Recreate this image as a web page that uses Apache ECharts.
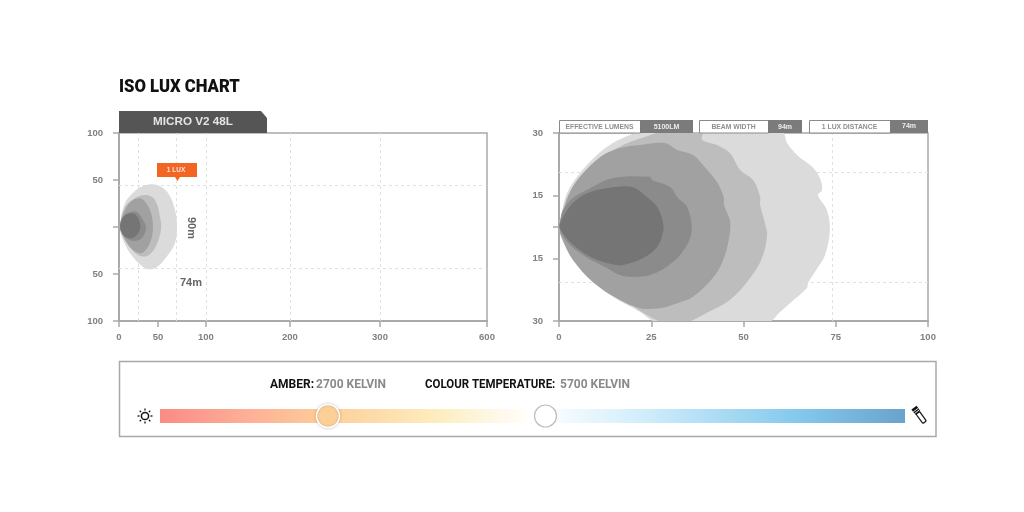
<!DOCTYPE html>
<html><head><meta charset="utf-8">
<style>html,body{margin:0;padding:0;background:#fff}#c{width:1024px;height:512px}</style>
<script src="https://cdn.jsdelivr.net/npm/echarts@6/dist/echarts.min.js"></script>
</head><body><div id="c"></div>
<script>
// Left chart ticks: axis position and printed label
const leftXTicks = [0, 50, 111.5, 219, 334.6, 471.8];
const leftXLabels = ['0', '50', '100', '200', '300', '600'];
const leftYTicks = [-100, -50, 0, 50, 100];
const leftYLabels = ['100', '50', '', '50', '100'];
const leftDashX = [25, 74, 111.5, 219, 334.6];
const leftDashY = [-43.5, 44.3];
// Right chart ticks
const rightXTicks = [0, 25, 50, 75, 100];
const rightXLabels = ['0', '25', '50', '75', '100'];
const rightYTicks = [-30, -10, 0, 10, 30];
const rightYLabels = ['30', '15', '', '15', '30'];
const rightDashX = [74];
const rightDashY = [-17.5, 17.5];

const shades = ['#dbdbdb', '#bdbdbd', '#a1a1a1', '#8b8b8b', '#757575'];

const left1 = [[1.3,0],[7.7,25.5],[17.9,36.2],[30.8,43.6],[48.7,44.7],[62.8,36.2],[71.8,18.1],[74.4,0],[71.8,-17],[62.8,-29.8],[48.7,-42.6],[35.9,-44.7],[17.9,-31.9],[5.1,-13.8]];
const left2 = [[1.3,0],[7.7,21.3],[23.1,31.9],[35.9,34],[46.2,28.7],[52.6,10.6],[53.8,-3.2],[46.2,-22.3],[35.9,-30.9],[24.4,-29.8],[14.1,-21.3],[5.1,-8.5]];
const left3 = [[1.3,0],[7.7,18.1],[17.9,28.7],[29.5,29.8],[39.7,18.1],[43.6,0],[39.7,-17],[29.5,-27.7],[17.9,-24.5],[7.7,-13.8]];
const left4 = [[1.3,0],[3.8,7.3],[11.5,14.9],[23.1,16],[30.8,7.4],[34.6,0],[29.5,-11.7],[17.9,-14.9],[7.7,-10.5]];
const left5 = [[1.5,0],[3.6,8.3],[10.3,13.8],[20.5,13.8],[26.9,4.3],[25.6,-5.3],[17.9,-11.7],[8.3,-10.6],[3.3,-5.2]];

const right1 = [[0,0],[.5,3.3],[2.2,10.9],[5.7,17.2],[10.3,23],[14.6,26.8],[19.2,29.4],[22.8,30.5],[40,31],[60.4,30.5],[61.8,26.8],[64.5,23],[68.6,19.2],[70.7,15.6],[71.3,11.8],[70.2,10.2],[72.6,5.4],[73.4,-1],[72.1,-8.9],[70.2,-12.8],[67.5,-17.9],[67.2,-19.5],[62.6,-24.3],[59.9,-27.1],[56.6,-30.5],[40,-31],[26.6,-30.5],[22,-27.1],[14.6,-22.3],[8.4,-16.3],[3.8,-9.9],[1.1,-4.8]];
const right2 = [[0,0],[.5,3.3],[2.2,9.3],[4.3,14],[8.4,19.2],[13.8,23.9],[19.2,27.1],[23.8,29],[28.2,30.5],[33,31],[38.8,30.5],[38.8,27.8],[42.8,26.2],[46.3,23.6],[49.1,18.2],[52.6,15],[54.5,9.6],[54.5,7],[55.8,1.3],[56.4,-2.6],[55,-9.9],[51.8,-16.3],[46.3,-23.3],[40.1,-27.4],[34.7,-30.5],[31,-31],[27.9,-30.5],[22,-26.8],[19.2,-24.3],[10.3,-17.6],[3.8,-10.5],[.8,-3.5]];
const right3 = [[0,0],[.8,3.2],[2.4,9.6],[5.7,16],[11.1,22.3],[16.5,25.2],[22,26.2],[28.7,26.8],[32,24.6],[36.3,23],[39,19.8],[42.8,14.4],[44.7,9.3],[44.7,7],[46.3,2.2],[46.3,-1.9],[45,-8.9],[42.3,-15.3],[36.3,-22.3],[32,-24.3],[27.4,-25.9],[22,-25.9],[16.5,-23.3],[9.2,-17.6],[3.8,-10.5],[.8,-3.5]];
const right4 = [[0,0],[.4,2.3],[1.1,5.4],[3.8,9.3],[7.6,11.8],[14.6,15.6],[24.7,16],[25.2,15],[30.1,12.8],[32.2,9.3],[34.7,6.4],[36,-.3],[34.7,-5.7],[30.9,-11.2],[24.7,-15.3],[17.3,-15.6],[13,-13.1],[6.5,-8.9],[2.2,-4.8]];
const right5 = [[.2,0],[.5,1.6],[1.1,3.2],[3.8,7.7],[7.6,10.8],[13,12.4],[19.8,12.8],[23.8,9.6],[26.8,6.1],[28.2,1.3],[28.2,-1.6],[26.6,-6.4],[22.8,-9.9],[17.3,-12.1],[13,-11.5],[7.6,-8.9],[3,-4.8],[.8,-1.6]];

const leftContours = [left1, left2, left3, left4, left5];
const rightContours = [right1, right2, right3, right4, right5];

const titleText = 'ISO LUX CHART';
const tabText = 'MICRO V2 48L';
const lightText = ['AMBER:', '2700 KELVIN', 'COLOUR TEMPERATURE:', '5700 KELVIN'];
const statLabels = ['EFFECTIVE LUMENS', 'BEAM WIDTH', '1 LUX DISTANCE'];
const statValues = ['5100LM', '94m', '74m'];

const AXIS = '#a9a9a9', LABEL = '#808080', DASH = '#e0e0e0';
const SANS = '"Liberation Sans", Arial, sans-serif';
const HEAD = 'Roboto, sans-serif';

function lookup(ticks, labels) {
  return v => { const i = ticks.findIndex(t => Math.abs(t - v) < 1e-6); return i < 0 ? '' : labels[i]; };
}
function xAxis(idx, min, max, ticks, labels) {
  return { type: 'value', gridIndex: idx, min, max, splitLine: {show: false},
    axisLine: {onZero: false, lineStyle: {color: AXIS, width: 2}},
    axisTick: {customValues: ticks, length: 6, lineStyle: {color: AXIS, width: 1.5}},
    axisLabel: {customValues: ticks, formatter: lookup(ticks, labels), color: LABEL, fontFamily: SANS, fontWeight: 'bold', fontSize: 9.5, margin: 11, hideOverlap: false, showMinLabel: true, showMaxLabel: true} };
}
function yAxis(idx, min, max, ticks, labels) {
  return { type: 'value', gridIndex: idx, min, max, splitLine: {show: false},
    axisLine: {onZero: false, lineStyle: {color: AXIS, width: 2}},
    axisTick: {customValues: ticks, length: 6, lineStyle: {color: AXIS, width: 1.5}},
    axisLabel: {customValues: ticks, formatter: lookup(ticks, labels), color: LABEL, fontFamily: SANS, fontWeight: 'bold', fontSize: 9.5, margin: 16, hideOverlap: false, showMinLabel: true, showMaxLabel: true} };
}
function contourSeries(points, color, g, z) {
  return { type: 'custom', xAxisIndex: g, yAxisIndex: g, data: points, encode: {x: 0, y: 1}, silent: true, z, clip: true,
    renderItem(params, api) {
      if (params.dataIndex !== 0) return null;
      return { type: 'polygon', shape: {points: points.map(p => api.coord(p)), smooth: 0.35}, style: {fill: color, stroke: null} };
    } };
}
function dashSeries(g, xs, ys) {
  return { type: 'line', xAxisIndex: g, yAxisIndex: g, data: [], z: 1, silent: true,
    markLine: { z: 1, silent: true, symbol: 'none', label: {show: false}, animation: false,
      lineStyle: {color: DASH, type: [3, 3], width: 1},
      data: [...xs.map(v => ({xAxis: v})), ...ys.map(v => ({yAxis: v}))] } };
}

const series = [dashSeries(0, leftDashX, leftDashY), dashSeries(1, rightDashX, rightDashY)];
leftContours.forEach((c, i) => series.push(contourSeries(c, shades[i], 0, 2 + i)));
rightContours.forEach((c, i) => series.push(contourSeries(c, shades[i], 1, 2 + i)));

function txt(x, y, text, fill, font, size, weight, align, rotation, scaleX) {
  return { type: 'text', x, y, rotation: rotation || 0, scaleX: scaleX || 1, z: 30,
    style: {text, fill, fontFamily: font, fontSize: size, fontWeight: weight || 'bold', align: align || 'left', verticalAlign: 'middle'} };
}
function rect(x, y, width, height, fill, stroke, lw) {
  return { type: 'rect', z: 20, shape: {x, y, width, height}, style: {fill, stroke: stroke || null, lineWidth: lw || 0} };
}
const g = [];
g.push(txt(119, 87.5, titleText, '#111', HEAD, 18.5, 900, 'left', 0, 0.9));
// tab
g.push({type: 'polygon', z: 20, shape: {points: [[119,111],[261,111],[267,118],[267,133],[119,133]]}, style: {fill: '#555'}});
g.push(txt(193, 122, tabText, '#e4e4e4', SANS, 11.7, 'bold', 'center'));
// 1 lux flag
g.push(rect(157, 163, 40, 14, '#f26522'));
g.push({type: 'polygon', z: 20, shape: {points: [[175,177],[180,177],[177.5,181]]}, style: {fill: '#f26522'}});
g.push(txt(176, 170.5, '1 LUX', '#fde5d8', SANS, 6.5, 'bold', 'center'));
g.push(txt(191, 228, '90m', '#666', SANS, 11, 'bold', 'center', -Math.PI / 2));
g.push(txt(191, 283, '74m', '#666', SANS, 11, 'bold', 'center'));
// stat boxes
[[559, 640, 693], [699, 768, 802], [809, 890, 928]].forEach((b, i) => {
  g.push(rect(b[0] + .5, 120.5, b[1] - b[0], 12.5, '#fff', '#8a8a8a', 1));
  g.push(rect(b[1], 120, b[2] - b[1], 13, '#7b7b7b'));
  g.push(txt((b[0] + b[1]) / 2, 127, statLabels[i], '#8e8e8e', SANS, 6.8, 'bold', 'center'));
  g.push(txt((b[1] + b[2]) / 2, i === 2 ? 126 : 127, statValues[i], '#eee', SANS, 7, 'bold', 'center'));
});
// colour panel
g.push(rect(119.5, 361.5, 816.5, 75, '#fff', '#a9a9a9', 1.5));
g.push({type: 'rect', z: 21, shape: {x: 160, y: 409, width: 745, height: 14},
  style: {fill: new echarts.graphic.LinearGradient(0, 0, 1, 0, [
    {offset: 0, color: '#fb8b85'}, {offset: .12, color: '#fdb097'}, {offset: .23, color: '#fdd09a'}, {offset: .38, color: '#fdeec2'},
    {offset: .5, color: '#ffffff'}, {offset: .54, color: '#f4fbfe'}, {offset: .65, color: '#d0edfb'}, {offset: .86, color: '#83c8ec'}, {offset: 1, color: '#6aa2cc'}
  ])}});
g.push({type: 'circle', z: 22, shape: {cx: 328, cy: 416, r: 11.5}, style: {fill: '#fdd09a', stroke: '#fff', lineWidth: 1.5, shadowBlur: 3, shadowColor: 'rgba(0,0,0,.2)'}});
g.push({type: 'circle', z: 22, shape: {cx: 545.5, cy: 416, r: 11}, style: {fill: '#fff', stroke: '#bdbdbd', lineWidth: 1.2}});
g.push(txt(270, 384.5, lightText[0], '#111', HEAD, 12, 'bold'));
g.push(txt(316, 384.5, lightText[1], '#8a8a8a', HEAD, 12, 'bold'));
g.push(txt(425, 384.5, lightText[2], '#111', HEAD, 12, 'bold', 'left', 0, 0.955));
g.push(txt(560, 384.5, lightText[3], '#8a8a8a', HEAD, 12, 'bold'));
// sun icon
g.push({type: 'circle', z: 22, shape: {cx: 145, cy: 416, r: 3.6}, style: {fill: '#fff', stroke: '#111', lineWidth: 1.5}});
for (let a = 0; a < 8; a++) {
  const c = Math.cos(a * Math.PI / 4), s = Math.sin(a * Math.PI / 4);
  g.push({type: 'line', z: 22, shape: {x1: 145 + 5.5 * c, y1: 416 + 5.5 * s, x2: 145 + 7.5 * c, y2: 416 + 7.5 * s}, style: {stroke: '#111', lineWidth: 1.3}});
}
// torch icon
g.push({type: 'group', z: 22, x: 919, y: 414.5, rotation: Math.PI / 5, children: [
  {type: 'rect', z: 22, shape: {x: -2.2, y: -2, width: 4.4, height: 11.5, r: 1}, style: {fill: '#fff', stroke: '#111', lineWidth: 1.2}},
  {type: 'rect', z: 22, shape: {x: -3.2, y: -8.5, width: 6.4, height: 6.5}, style: {fill: '#111'}},
  {type: 'line', z: 23, shape: {x1: -3.2, y1: -5.5, x2: 3.2, y2: -5.5}, style: {stroke: '#fff', lineWidth: .8}},
  {type: 'line', z: 23, shape: {x1: -3.2, y1: -3.5, x2: 3.2, y2: -3.5}, style: {stroke: '#fff', lineWidth: .8}}
]});

const chart = echarts.init(document.getElementById('c'), null, {renderer: 'canvas'});
chart.setOption({
  animation: false,
  backgroundColor: '#fff',
  grid: [
    {left: 119, top: 133, width: 368, height: 188, show: true, borderColor: AXIS, borderWidth: 1.5, backgroundColor: 'transparent'},
    {left: 559, top: 133, width: 369, height: 188, show: true, borderColor: AXIS, borderWidth: 1.5, backgroundColor: 'transparent'}
  ],
  xAxis: [xAxis(0, 0, 471.8, leftXTicks, leftXLabels), xAxis(1, 0, 100, rightXTicks, rightXLabels)],
  yAxis: [yAxis(0, -100, 100, leftYTicks, leftYLabels), yAxis(1, -30, 30, rightYTicks, rightYLabels)],
  series,
  graphic: g
});
</script></body></html>
